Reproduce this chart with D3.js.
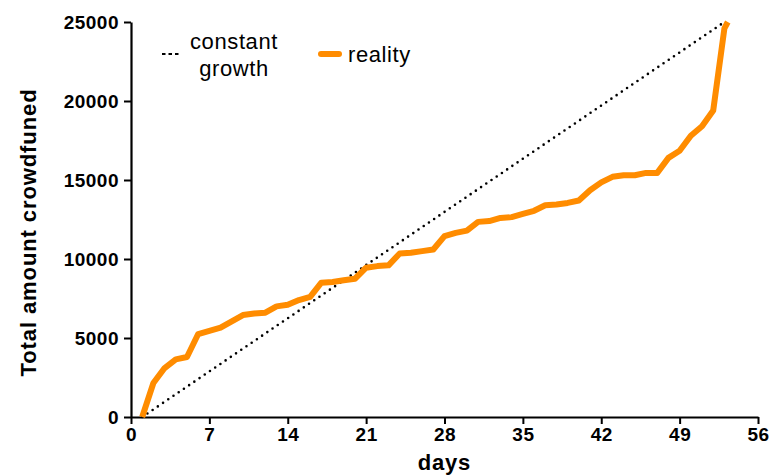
<!DOCTYPE html>
<html>
<head>
<meta charset="utf-8">
<script src="https://cdn.jsdelivr.net/npm/d3@7"></script>
<style>
  body { margin: 0; background: #fff; }
  text { font-family: "Liberation Sans", Arial, Helvetica, sans-serif; }
</style>
</head>
<body>
<div id="chart"></div>
<script>
// data
var days = [1, 2, 3, 4, 5, 6, 7, 8, 9, 10, 11, 12, 13, 14, 15, 16, 17, 18, 19, 20,
    21, 22, 23, 24, 25, 26, 27, 28, 29, 30, 31, 32, 33, 34, 35, 36, 37, 38, 39, 40,
    41, 42, 43, 44, 45, 46, 47, 48, 49, 50, 51, 52, 53, 53.3];
var raised = [0, 2150, 3100, 3650, 3800, 5250, 5450, 5650, 6050, 6450, 6550, 6600, 7000, 7100, 7400, 7600, 8500, 8550, 8650, 8750,
    9450, 9550, 9600, 10350, 10400, 10500, 10600, 11450, 11650, 11800, 12350, 12400, 12600, 12650, 12850, 13050, 13400, 13450, 13550, 13700,
    14350, 14850, 15200, 15300, 15300, 15450, 15450, 16400, 16850, 17800, 18400, 19400, 24600, 25000];
var constantDays = [1, 53];
var constantValues = [0, 25000];
var xTicks = [0, 7, 14, 21, 28, 35, 42, 49, 56];
var yTicks = [0, 5000, 10000, 15000, 20000, 25000];

var width = 771,
    height = 476,
    margin = {top: 22, right: 13, bottom: 59, left: 131};

var svg = d3.select("#chart").append("svg")
    .attr("width", width)
    .attr("height", height);

var x = d3.scaleLinear().domain([0, 56]).range([margin.left, width - margin.right]);
var y = d3.scaleLinear().domain([0, 25000]).range([height - margin.bottom, margin.top]);

// axes
var xAxis = svg.append("g")
    .attr("transform", "translate(0," + y(0) + ")")
    .call(d3.axisBottom(x).tickValues(xTicks).tickFormat(d3.format("d"))
        .tickSize(7).tickPadding(4).tickSizeOuter(0));
var yAxis = svg.append("g")
    .attr("transform", "translate(" + x(0) + ",0)")
    .call(d3.axisLeft(y).tickValues(yTicks).tickFormat(d3.format("d"))
        .tickSize(7).tickPadding(5).tickSizeOuter(0));

[xAxis, yAxis].forEach(function(g) {
    g.select(".domain").attr("stroke", "#000").attr("stroke-width", 2.2);
    g.selectAll(".tick line").attr("stroke", "#000").attr("stroke-width", 2);
    g.selectAll(".tick text")
        .attr("fill", "#000")
        .style("font-size", "19px")
        .style("font-weight", "bold")
        .style("letter-spacing", "0.5px");
});

// axis titles
svg.append("text")
    .attr("x", x(28))
    .attr("y", 470)
    .attr("text-anchor", "middle")
    .style("font-size", "22px")
    .style("font-weight", "bold")
    .style("letter-spacing", "0.8px")
    .text("days");

svg.append("text")
    .attr("transform", "translate(36," + ((margin.top + y(0)) / 2 + 13) + ") rotate(-90)")
    .attr("text-anchor", "middle")
    .style("font-size", "22px")
    .style("font-weight", "bold")
    .style("letter-spacing", "0.9px")
    .text("Total amount crowdfuned");

// constant growth
var line = d3.line()
    .x(function(d) { return x(d[0]); })
    .y(function(d) { return y(d[1]); });

svg.append("path")
    .datum(d3.zip(constantDays, constantValues))
    .attr("fill", "none")
    .attr("stroke", "#000")
    .attr("stroke-width", 2.6)
    .attr("stroke-linecap", "round")
    .attr("stroke-dasharray", "0,6.3")
    .attr("d", line);

// reality
svg.append("path")
    .datum(d3.zip(days, raised))
    .attr("fill", "none")
    .attr("stroke", "#ff8c00")
    .attr("stroke-width", 6)
    .attr("stroke-linejoin", "round")
    .attr("d", line);

// legend
var legend = svg.append("g");
legend.append("line")
    .attr("x1", 162).attr("x2", 180)
    .attr("y1", 54).attr("y2", 54)
    .attr("stroke", "#000")
    .attr("stroke-width", 2)
    .attr("stroke-dasharray", "3.5,3");
legend.append("text")
    .attr("x", 234).attr("y", 49)
    .attr("text-anchor", "middle")
    .style("font-size", "22px")
    .style("letter-spacing", "0.6px")
    .text("constant");
legend.append("text")
    .attr("x", 234).attr("y", 76)
    .attr("text-anchor", "middle")
    .style("font-size", "22px")
    .style("letter-spacing", "0.6px")
    .text("growth");
legend.append("line")
    .attr("x1", 321).attr("x2", 339)
    .attr("y1", 54).attr("y2", 54)
    .attr("stroke", "#ff8c00")
    .attr("stroke-width", 6)
    .attr("stroke-linecap", "round");
legend.append("text")
    .attr("x", 348).attr("y", 62)
    .style("font-size", "22px")
    .style("letter-spacing", "0.6px")
    .text("reality");
</script>
</body>
</html>
